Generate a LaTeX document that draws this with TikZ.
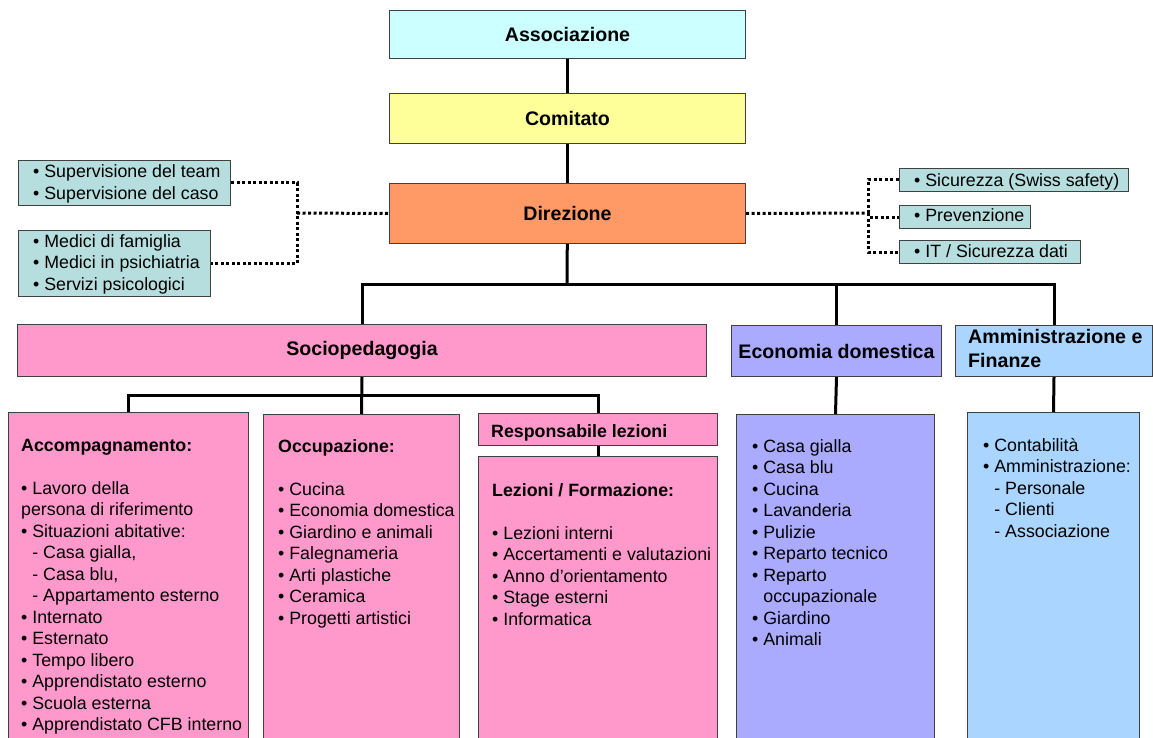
\documentclass[tikz,border=0pt]{standalone}
\usepackage{fontspec}
\setmainfont{Liberation Sans}
\usepackage{tikz}
\usetikzlibrary{shapes.geometric}

\definecolor{cyanbox}{HTML}{CCFFFF}
\definecolor{yellowbox}{HTML}{FFFF99}
\definecolor{orangebox}{HTML}{FF9966}
\definecolor{pinkbox}{HTML}{FF99CC}
\definecolor{lilacbox}{HTML}{AAAAFF}
\definecolor{bluebox}{HTML}{A9D5FF}
\definecolor{tealbox}{HTML}{B7DEDE}
\definecolor{boxline}{HTML}{404040}

\newcommand{\bul}{\textbullet\ }
\newcommand{\ind}{\hphantom{\textbullet\ }}

\tikzstyle{orgbox} = [rectangle, draw=boxline, line width=1pt, inner sep=0pt, anchor=north west]
\tikzstyle{titlebox} = [orgbox, text centered, font=\fontsize{19.6}{24.5}\selectfont\bfseries]
\tikzstyle{sidebox} = [orgbox, fill=tealbox]
\tikzstyle{list} = [inner sep=0pt, anchor=base west, font=\fontsize{17.8}{21.5}\selectfont]
\tikzstyle{conn} = [line width=3pt, black]
\tikzstyle{dots} = [line width=3pt, black, dash pattern=on 3pt off 2.5pt]

\begin{document}
\begin{tikzpicture}[x=1pt, y=-1pt]
                \useasboundingbox (0,0) rectangle (1153,738);

                % Nodes
                \node (assoc) [titlebox, fill=cyanbox, minimum width=356pt, minimum height=48pt] at (389,10) {Associazione};
                \node (comit) [titlebox, fill=yellowbox, minimum width=356pt, minimum height=50pt] at (389,93) {Comitato};
                \node (direz) [titlebox, fill=orangebox, minimum width=356pt, minimum height=60pt] at (389,183) {Direzione};

                \node (superv) [sidebox, minimum width=212pt, minimum height=45pt] at (18,160) {};
                \node (medici) [sidebox, minimum width=192pt, minimum height=66pt] at (18,230) {};
                \node (sicur) [sidebox, minimum width=229pt, minimum height=23pt] at (899,168) {};
                \node (prev) [sidebox, minimum width=131pt, minimum height=23pt] at (899,205) {};
                \node (itsec) [sidebox, minimum width=181pt, minimum height=23pt] at (899,240) {};

                \node (supervTxt) [list] at (33,178) {\parbox[t]{200pt}{\bul Supervisione del team\\\bul Supervisione del caso}};
                \node (mediciTxt) [list] at (33,247) {\parbox[t]{200pt}{\bul Medici di famiglia\\\bul Medici in psichiatria\\\bul Servizi psicologici}};
                \node (sicurTxt) [list] at (914,186) {\bul Sicurezza (Swiss safety)};
                \node (prevTxt) [list] at (914,222) {\bul Prevenzione};
                \node (itsecTxt) [list] at (914,257) {\bul IT / Sicurezza dati};

                \node (socio) [titlebox, fill=pinkbox, minimum width=689pt, minimum height=52pt] at (17,324) {Sociopedagogia};
                \node (econ) [titlebox, fill=lilacbox, minimum width=210pt, minimum height=51pt] at (731,325) {Economia domestica};
                \node (amm) [orgbox, fill=bluebox, minimum width=197pt, minimum height=51pt] at (955,325) {};
                \node (ammTxt) [list, font=\fontsize{19.6}{24.5}\selectfont\bfseries] at (968,343) {\parbox[t]{185pt}{Amministrazione e\\Finanze}};

                \node (accomp) [orgbox, fill=pinkbox, minimum width=240pt, minimum height=350pt] at (8,412) {};
                \node (occup) [orgbox, fill=pinkbox, minimum width=196pt, minimum height=350pt] at (263,414) {};
                \node (resp) [orgbox, fill=pinkbox, minimum width=239pt, minimum height=32pt] at (478,413) {};
                \node (lez) [orgbox, fill=pinkbox, minimum width=239pt, minimum height=310pt] at (478,456) {};
                \node (econsub) [orgbox, fill=lilacbox, minimum width=198pt, minimum height=350pt] at (736,414) {};
                \node (ammsub) [orgbox, fill=bluebox, minimum width=172pt, minimum height=350pt] at (967,412) {};

                \node (accompTxt) [list] at (21,451) {\parbox[t]{240pt}{\textbf{Accompagnamento:}\\[21.5pt]
                    \bul Lavoro della\\persona di riferimento\\\bul Situazioni abitative:\\
                    \ind - Casa gialla,\\\ind - Casa blu,\\\ind - Appartamento esterno\\
                    \bul Internato\\\bul Esternato\\\bul Tempo libero\\\bul Apprendistato esterno\\
                    \bul Scuola esterna\\\bul Apprendistato CFB interno}};
                \node (occupTxt) [list] at (278,452) {\parbox[t]{200pt}{\textbf{Occupazione:}\\[21.5pt]
                    \bul Cucina\\\bul Economia domestica\\\bul Giardino e animali\\\bul Falegnameria\\
                    \bul Arti plastiche\\\bul Ceramica\\\bul Progetti artistici}};
                \node (respTxt) [list, font=\fontsize{17.8}{21.5}\selectfont\bfseries] at (491,437.5) {Responsabile lezioni};
                \node (lezTxt) [list] at (492,496) {\parbox[t]{230pt}{\textbf{Lezioni / Formazione:}\\[21.5pt]
                    \bul Lezioni interni\\\bul Accertamenti e valutazioni\\\bul Anno d’orientamento\\
                    \bul Stage esterni\\\bul Informatica}};
                \node (econsubTxt) [list] at (752,452) {\parbox[t]{190pt}{\bul Casa gialla\\\bul Casa blu\\\bul Cucina\\
                    \bul Lavanderia\\\bul Pulizie\\\bul Reparto tecnico\\\bul Reparto\\\ind occupazionale\\
                    \bul Giardino\\\bul Animali}};
                \node (ammsubTxt) [list] at (983,451) {\parbox[t]{170pt}{\bul Contabilità\\\bul Amministrazione:\\
                    \ind - Personale\\\ind - Clienti\\\ind - Associazione}};

                \coordinate (bus) at (567,284);
                \coordinate (subbus) at (362,395);
                \coordinate (ljoin) at (297,213);
                \coordinate (rjoin) at (868,213);

                % Arrows
                \draw [conn] (assoc) -- (comit);
                \draw [conn] (comit) -- (direz);
                \draw [conn] (direz) -- (bus);
                \draw [conn] (socio.north) |- (bus) -| (amm.north);
                \draw [conn] (econ.north) -- (econ.north |- bus);
                \draw [conn] (socio.south) -- (occup.north);
                \draw [conn] (accomp.north) |- (subbus) -| (resp.north);
                \draw [conn] (resp) -- (lez);
                \draw [conn] (econ.south) -- (econsub.north);
                \draw [conn] (amm.south) -- (ammsub.north);

                \draw [dots] (superv.east) -| (ljoin) |- (medici.east);
                \draw [dots] (ljoin) -- (direz.west);
                \draw [dots] (direz.east) -- (rjoin);
                \draw [dots] (rjoin) |- (sicur.west);
                \draw [dots] (rjoin) |- (prev.west);
                \draw [dots] (rjoin) |- (itsec.west);
            \end{tikzpicture}
\end{document}
